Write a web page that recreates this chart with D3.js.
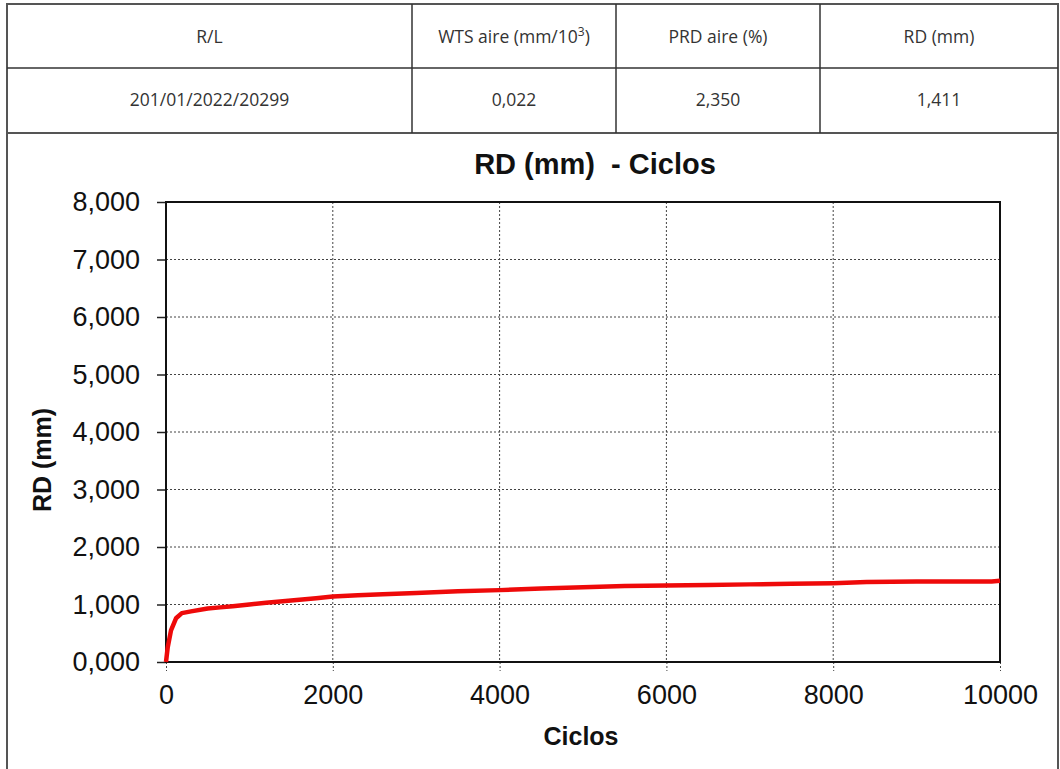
<!DOCTYPE html>
<html>
<head>
<meta charset="utf-8">
<script src="https://cdn.jsdelivr.net/npm/d3@7"></script>
<style>
  html, body { margin: 0; padding: 0; background: #fff; }
  svg { display: block; }
</style>
</head>
<body>
<svg id="chart" width="1060" height="769"></svg>
<script>
// Summary table
const tableHeaders = ["R/L", "WTS aire (mm/10", "PRD aire (%)", "RD (mm)"];
const tableValues = ["201/01/2022/20299", "0,022", "2,350", "1,411"];

// Rut depth curve: load cycles vs rut depth (mm)
const cycles = [0, 20, 60, 120, 190, 300, 500, 650, 800, 1000, 1200, 1500, 1800, 2000,
  2300, 2600, 3000, 3500, 4000, 4500, 5000, 5500, 6000, 6500, 7000, 7500, 8000,
  8400, 9000, 9500, 9900, 10000];
const rutDepth = [0, 0.25, 0.55, 0.76, 0.85, 0.88, 0.93, 0.95, 0.97, 1.00, 1.03, 1.07, 1.11, 1.14,
  1.16, 1.18, 1.20, 1.23, 1.25, 1.28, 1.30, 1.32, 1.33, 1.34, 1.35, 1.36, 1.37,
  1.39, 1.40, 1.40, 1.40, 1.411];

const xTicks = [0, 2000, 4000, 6000, 8000, 10000];
const yTicks = [0, 1, 2, 3, 4, 5, 6, 7, 8];

const svg = d3.select("#chart");

// ---- table ----
const colEdges = [7, 412, 616, 820, 1058];
const tg = svg.append("g");
tg.append("rect").attr("x", 7).attr("y", 4).attr("width", 1051).attr("height", 129)
  .attr("fill", "none").attr("stroke", "#555").attr("stroke-width", 2);
tg.append("line").attr("x1", 7).attr("x2", 1058).attr("y1", 68).attr("y2", 68)
  .attr("stroke", "#333").attr("stroke-width", 1.5);
colEdges.slice(1, -1).forEach(x => {
  tg.append("line").attr("x1", x).attr("x2", x).attr("y1", 4).attr("y2", 133)
    .attr("stroke", "#333").attr("stroke-width", 1.5);
});
const cellFont = "'Open Sans', sans-serif";
tableHeaders.forEach((h, i) => {
  const cx = (colEdges[i] + colEdges[i + 1]) / 2;
  const t = tg.append("text").attr("x", cx).attr("y", 43)
    .attr("text-anchor", "middle").attr("font-family", cellFont)
    .attr("font-size", 17.5).attr("fill", "#333");
  if (i === 1) {
    t.append("tspan").text(h);
    t.append("tspan").attr("dy", -7).attr("font-size", 12).text("3");
    t.append("tspan").attr("dy", 7).text(")");
  } else {
    t.text(h);
  }
});
tableValues.forEach((v, i) => {
  const cx = (colEdges[i] + colEdges[i + 1]) / 2;
  tg.append("text").attr("x", cx).attr("y", 106)
    .attr("text-anchor", "middle").attr("font-family", cellFont)
    .attr("font-size", 17.5).attr("fill", "#333").text(v);
});

// chart frame below the table
svg.append("path").attr("d", "M7,133 V769 M1058,133 V769")
  .attr("fill", "none").attr("stroke", "#555").attr("stroke-width", 2);

// ---- plot ----
const plot = { left: 166, right: 1000, top: 202, bottom: 662 };
const x = d3.scaleLinear().domain([0, 10000]).range([plot.left, plot.right]);
const y = d3.scaleLinear().domain([0, 8]).range([plot.bottom, plot.top]);
const font = "'Liberation Sans', Arial, sans-serif";
const fmtY = v => d3.format(".3f")(v).replace(".", ",");

// grid
const grid = svg.append("g");
grid.selectAll("line.h").data(yTicks.slice(1, -1)).join("line")
  .attr("x1", plot.left).attr("x2", plot.right)
  .attr("y1", d => y(d)).attr("y2", d => y(d))
  .attr("stroke", "#444").attr("stroke-width", 1).attr("stroke-dasharray", "2,2");
grid.selectAll("line.v").data(xTicks.slice(1, -1)).join("line")
  .attr("x1", d => x(d)).attr("x2", d => x(d))
  .attr("y1", plot.top).attr("y2", plot.bottom)
  .attr("stroke", "#444").attr("stroke-width", 1).attr("stroke-dasharray", "2,2");

// y axis
const yAxis = svg.append("g").attr("transform", `translate(${plot.left},0)`)
  .call(d3.axisLeft(y).tickValues(yTicks).tickFormat(fmtY).tickSize(9).tickPadding(17));
yAxis.select(".domain").remove();
yAxis.selectAll(".tick line").attr("stroke", "#222").attr("stroke-width", 1.5);
yAxis.selectAll("text").attr("font-family", font).attr("font-size", 27).attr("fill", "#111");

// x axis
const xAxis = svg.append("g").attr("transform", `translate(0,${plot.bottom})`)
  .call(d3.axisBottom(x).tickValues(xTicks).tickFormat(d3.format("d")).tickSize(9).tickPadding(14));
xAxis.select(".domain").remove();
xAxis.selectAll(".tick line").attr("stroke", "#444").attr("stroke-dasharray", "2,2");
xAxis.selectAll("text").attr("font-family", font).attr("font-size", 27).attr("fill", "#111");

// plot frame
svg.append("rect").attr("x", plot.left).attr("y", plot.top)
  .attr("width", plot.right - plot.left).attr("height", plot.bottom - plot.top)
  .attr("fill", "none").attr("stroke", "#111").attr("stroke-width", 2);

// curve
const pts = cycles.map((c, i) => [c, rutDepth[i]]);
svg.append("path").datum(pts)
  .attr("d", d3.line().x(d => x(d[0])).y(d => y(d[1])))
  .attr("fill", "none").attr("stroke", "#ee0a0a").attr("stroke-width", 4.5)
  .attr("stroke-linejoin", "round");

// titles
svg.append("text").attr("x", 595).attr("y", 174).attr("text-anchor", "middle")
  .attr("font-family", font).attr("font-weight", "bold").attr("font-size", 29)
  .attr("fill", "#111").attr("xml:space", "preserve").text("RD (mm)  - Ciclos");
svg.append("text").attr("transform", "translate(51,460) rotate(-90)")
  .attr("text-anchor", "middle").attr("font-family", font).attr("font-weight", "bold")
  .attr("font-size", 25).attr("fill", "#111").text("RD (mm)");
svg.append("text").attr("x", 581).attr("y", 745).attr("text-anchor", "middle")
  .attr("font-family", font).attr("font-weight", "bold").attr("font-size", 25)
  .attr("fill", "#111").text("Ciclos");
</script>
</body>
</html>
